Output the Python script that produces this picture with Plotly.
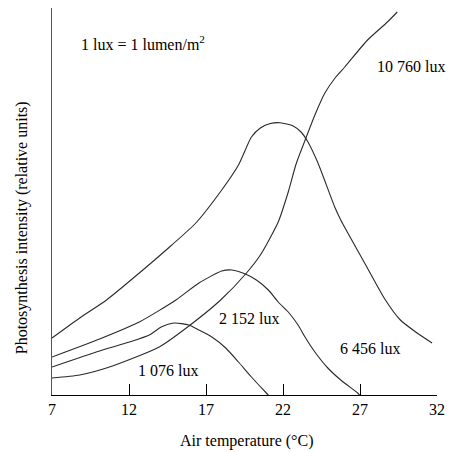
import plotly.graph_objects as go

# Air temperature (°C) and photosynthesis intensity (relative units) per light level
t_10760 = [7.0, 8.8, 10.93, 13.96, 15.89, 17.95, 19.63, 20.53, 21.69, 22.34, 22.85, 23.49, 24.07, 24.72, 25.43, 26.01, 27.49, 28.78, 29.42]
y_10760 = [17, 20, 29, 48, 69, 95, 122, 140, 173, 203, 231, 257, 280, 302, 318, 328, 355, 373, 383]

t_6456 = [7.0, 8.8, 10.54, 12.67, 14.41, 16.34, 18.02, 19.11, 19.95, 20.53, 21.18, 21.82, 22.66, 23.17, 23.62, 24.27, 25.36, 25.75, 27.30, 28.65, 29.62, 30.71, 31.68]
y_6456 = [57, 77, 95, 122, 145, 172, 205, 230, 258, 267, 271.5, 272.3, 269, 263, 253, 232, 188, 175, 132, 95, 75, 62, 52]

t_2152 = [7.0, 10.09, 12.67, 15.05, 16.54, 18.02, 18.67, 19.56, 20.27, 21.05, 21.69, 22.34, 22.98, 23.43, 24.07, 24.91, 25.75, 26.85, 26.97]
y_2152 = [38, 56, 73, 95, 112, 124, 125, 121, 115, 105, 93, 83, 70, 58, 43, 27, 15, 2, 0]

t_1076 = [7.0, 10.09, 12.03, 13.32, 14.09, 14.93, 15.89, 16.54, 17.38, 18.28, 19.11, 19.95, 20.92, 21.05]
y_1076 = [28, 44, 53, 60, 68, 72, 70, 65, 58, 47, 33, 18, 2, 0]

x_tick_labels = [7, 12, 17, 22, 27, 32]
x_inner_ticks = [12, 17, 22, 27]

FONT = "Liberation Serif, Times New Roman, serif"
LINE = dict(color="#2a2a2a", width=1.1, shape="spline", smoothing=0.6)

fig = go.Figure()
for tx, ty in [(t_10760, y_10760), (t_6456, y_6456), (t_2152, y_2152), (t_1076, y_1076)]:
    fig.add_trace(go.Scatter(x=tx, y=ty, mode="lines", line=LINE, hoverinfo="skip", showlegend=False))

# invisible trace to carry the tick-mark overlay axis
fig.add_trace(go.Scatter(x=[7, 32], y=[0, 0], xaxis="x2", mode="lines",
                         line=dict(width=0), showlegend=False, hoverinfo="skip"))

fig.update_layout(
    width=453, height=452,
    margin=dict(l=52, r=13, t=8, b=57),
    paper_bgcolor="white", plot_bgcolor="white",
    font=dict(family=FONT, size=16, color="black"),
    xaxis=dict(range=[7, 32], tickvals=x_tick_labels, ticktext=[str(v) for v in x_tick_labels],
               showline=True, linecolor="black", linewidth=1, ticks="", showgrid=False,
               zeroline=False, tickfont=dict(family=FONT, size=16, color="black")),
    xaxis2=dict(range=[7, 32], overlaying="x", anchor="y", side="bottom",
                tickvals=x_inner_ticks, ticks="inside", ticklen=11, tickcolor="black",
                tickwidth=1, showticklabels=False, showgrid=False, zeroline=False, showline=False),
    yaxis=dict(range=[0, 387], showline=True, linecolor="#555555", linewidth=1.2,
               ticks="", showticklabels=False, showgrid=False, zeroline=False),
)

ann = dict(showarrow=False, font=dict(family=FONT, size=16, color="black"))
fig.add_annotation(x=12.9, y=352, text="1 lux = 1 lumen/m<sup>2</sup>", **ann)
fig.add_annotation(x=30.3, y=329, text="10 760 lux", **ann)
fig.add_annotation(x=19.76, y=77, text="2 152 lux", **ann)
fig.add_annotation(x=27.62, y=47, text="6 456 lux", **ann)
fig.add_annotation(x=14.54, y=25, text="1 076 lux", **ann)
fig.add_annotation(xref="paper", yref="paper", x=(248 - 52) / 388, y=(395 - 441) / 387,
                   text="Air temperature (°C)", yanchor="middle", xanchor="center", **ann)
fig.add_annotation(xref="paper", yref="paper", x=(22 - 52) / 388, y=(395 - 228) / 387,
                   text="Photosynthesis intensity (relative units)", textangle=-90,
                   xanchor="center", yanchor="middle", **ann)

fig.write_html("out.html")
